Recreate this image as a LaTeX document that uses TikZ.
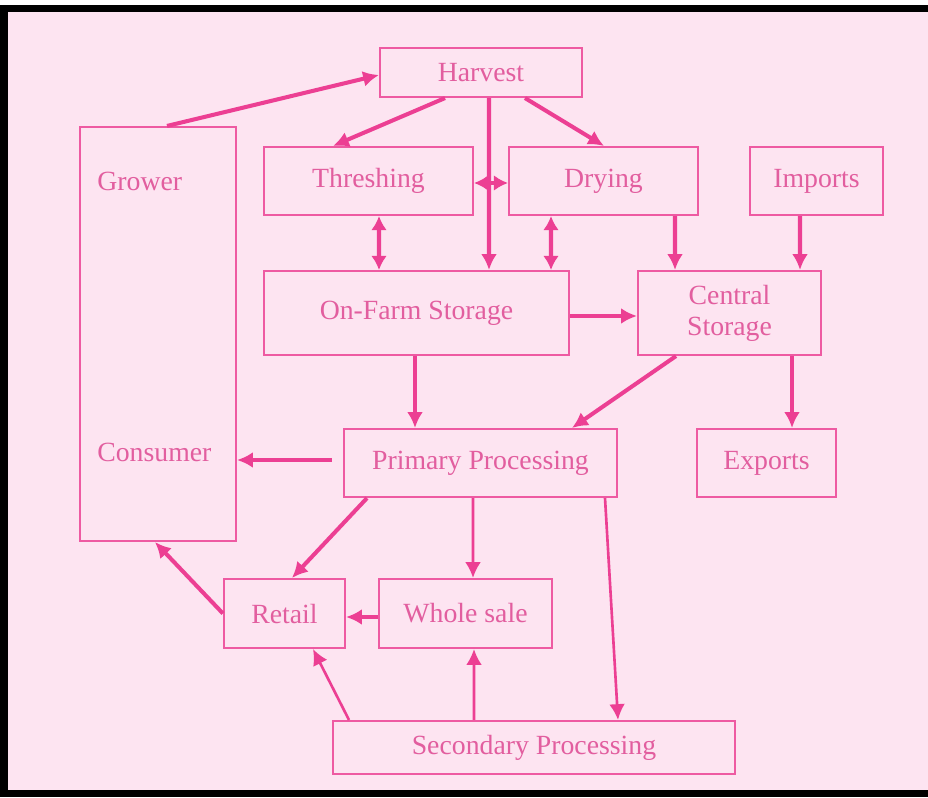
\documentclass[tikz,border=0pt]{standalone}
\usepackage{fontspec}
\setmainfont{Liberation Serif}
\usetikzlibrary{arrows.meta,calc}
\definecolor{bgpink}{HTML}{FDE4F1}
\definecolor{linepink}{HTML}{EE5AA2}
\definecolor{arrpink}{HTML}{EC3F93}
\definecolor{txtpink}{HTML}{E25E9F}
\tikzset{
  box/.style={draw=linepink, line width=1.2pt, text=txtpink, font=\fontsize{15.8}{17.5}\selectfont, align=center, inner sep=0pt},
  sz/.style 2 args={minimum width=#1*0.02cm, minimum height=#2*0.02cm},
  lbl/.style={text=txtpink, font=\fontsize{15.8}{17.5}\selectfont, inner sep=0pt, anchor=west},
  arr/.style={draw=arrpink, line width=2.3pt, -{Latex[length=9pt,width=9pt]}},
  thinarr/.style={draw=arrpink, line width=1.5pt, -{Latex[length=9pt,width=9pt]}},
  darr/.style={draw=arrpink, line width=2.3pt, {Latex[length=8pt,width=9pt]}-{Latex[length=8pt,width=9pt]}}
}
\begin{document}
\begin{tikzpicture}[x=0.02cm, y=-0.02cm]
\useasboundingbox (0,0) rectangle (928,797);
\fill[white] (0,0) rectangle (928,797);
\fill[black] (0,5) rectangle (928,797);
\fill[bgpink] (8,12) rectangle (928,790);

\node[box, sz={202}{49}] (harvest) at (481,72.5) {Harvest};
\node[box, sz={156}{414}] (grower) at (158,334) {};
\node[lbl] (growertxt) at (97,181) {Grower};
\node[lbl] (consumertxt) at (97,452) {Consumer};
\node[box, sz={209}{68}] (threshing) at (368.5,181) {Threshing};
\node[box, sz={189}{68}] (drying) at (603.5,181) {Drying};
\node[box, sz={133}{68}] (imports) at (816.5,181) {Imports};
\node[box, sz={305}{84}] (onfarm) at (416.5,313) {On-Farm Storage};
\node[box, sz={183}{84}] (central) at (729.5,313) {Central\\Storage};
\node[box, sz={273}{68}] (primary) at (480.5,463) {Primary Processing};
\node[box, sz={139}{68}] (exports) at (766.5,463) {Exports};
\node[box, sz={121}{69}] (retail) at (284.5,613.5) {Retail};
\node[box, sz={173}{69}] (wholesale) at (465.5,613.5) {Whole sale};
\node[box, sz={402}{53}] (secondary) at (534,747.5) {Secondary Processing};

% arrows
\draw[arr] ($(grower.north)+(9,0)$) -- ($(harvest.west)+(0,2.5)$);
\draw[arr] ($(harvest.south)+(-36,0)$) -- ($(threshing.north)+(-35.5,0)$);
\draw[arr] ($(harvest.south)+(8,0)$) -- ($(onfarm.north)+(72.5,0)$);
\draw[arr] ($(harvest.south)+(44,0)$) -- ($(drying.north)+(0.5,0)$);
\draw[darr] ($(threshing.east)+(0,2)$) -- ($(drying.west)+(0,2)$);
\draw[darr] ($(threshing.south)+(10.5,0)$) -- ($(onfarm.north)+(-37.5,0)$);
\draw[darr] ($(drying.south)+(-52.5,0)$) -- ($(onfarm.north)+(134.5,0)$);
\draw[arr] ($(drying.south)+(71.5,0)$) -- ($(central.north)+(-54.5,0)$);
\draw[arr] ($(imports.south)+(-16.5,0)$) -- ($(central.north)+(70.5,0)$);
\draw[arr] ($(onfarm.east)+(0,3)$) -- ($(central.west)+(0,3)$);
\draw[arr] ($(onfarm.south)+(-1.5,0)$) -- ($(primary.north)+(-65.5,0)$);
\draw[arr] ($(central.south)+(-53.5,0)$) -- ($(primary.north)+(91.5,0)$);
\draw[arr] ($(central.south)+(62.5,0)$) -- ($(exports.north)+(25.5,0)$);
\draw[arr] ($(primary.west)+(-11,-3)$) -- ($(grower.east)+(0,126)$);
\draw[arr] ($(primary.south)+(-113.5,0)$) -- ($(retail.north)+(7.5,0)$);
\draw[thinarr] ($(primary.south)+(-7.5,0)$) -- ($(wholesale.north)+(7.5,0)$);
\draw[thinarr] ($(primary.south)+(124.5,0)$) -- ($(secondary.north)+(84,0)$);
\draw[arr] ($(wholesale.west)+(0,3.5)$) -- ($(retail.east)+(0,3.5)$);
\draw[arr] (retail.west) -- ($(grower.south)+(-3,0)$);
\draw[thinarr] ($(secondary.north)+(-185,0)$) -- ($(retail.south)+(28.5,0)$);
\draw[thinarr] ($(secondary.north)+(-60,0)$) -- ($(wholesale.south)+(8.5,0)$);
\end{tikzpicture}
\end{document}
